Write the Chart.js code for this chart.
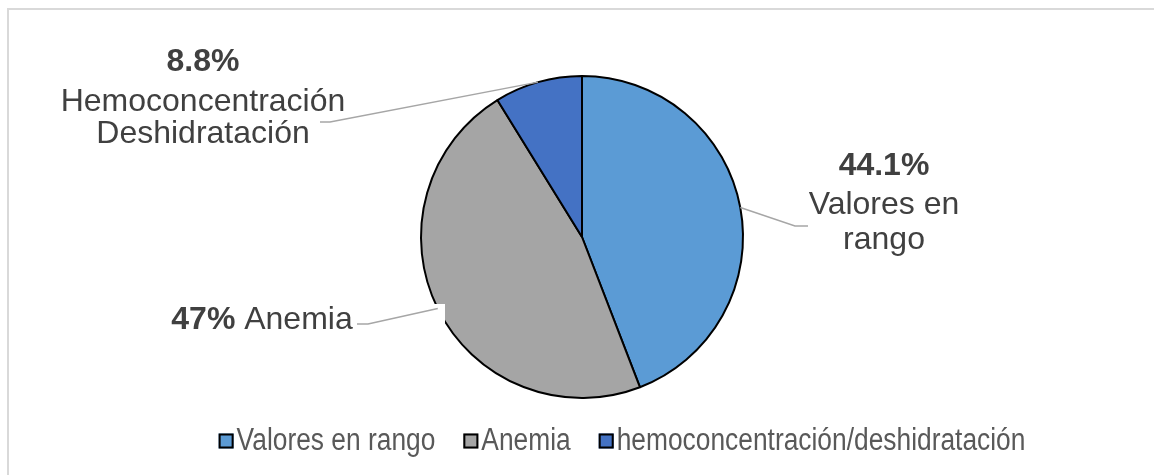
<!DOCTYPE html>
<html>
<head>
<meta charset="utf-8">
<script src="https://cdn.jsdelivr.net/npm/chart.js@4.4.1/dist/chart.umd.min.js"></script>
<style>
  html, body { margin: 0; padding: 0; background: #fff; }
  #wrap { position: relative; width: 1154px; height: 475px; overflow: hidden; }
  #frame { position: absolute; left: 7px; top: 8px; width: 1200px; height: 520px; border-left: 2px solid #d9d9d9; border-top: 2px solid #d9d9d9; }
  canvas { position: absolute; left: 0; top: 0; }
</style>
</head>
<body>
<div id="wrap">
  <div id="frame"></div>
  <canvas id="pieChart" width="1154" height="475"></canvas>
</div>
<script>
// Data
const categories = ['Valores en rango', 'Anemia', 'hemoconcentración/deshidratación'];
const percentValues = [44.1, 47, 8.8];
const percentLabels = ['44.1%', '47%', '8.8%'];
const sliceColors = ['#5B9BD5', '#A5A5A5', '#4472C4'];

const FONT = '"Liberation Sans", Arial, sans-serif';

// labels beside the pie, leader line tail points listed from text end toward pie
const labelLayout = [
    { lines: [[{ t: percentLabels[0], b: true }], [{ t: 'Valores en' }], [{ t: 'rango' }]],
      x: 884, ys: [166, 205, 240], tail: [[808, 226], [795, 226]], box: null },
    { lines: [[{ t: percentLabels[1], b: true }, { t: ' Anemia' }]],
      x: 262, ys: [320], tail: [[357, 324], [368, 324]], box: [160, 304, 285, 34] },
    { lines: [[{ t: percentLabels[2], b: true }], [{ t: 'Hemoconcentración' }], [{ t: 'Deshidratación' }]],
      x: 203, ys: [62, 102, 134], tail: [[320, 122], [330, 122]], box: null }
];

const labelPlugin = {
    id: 'sideLabels',
    afterDatasetsDraw(chart) {
        const ctx = chart.ctx;
        const arcs = chart.getDatasetMeta(0).data;
        ctx.save();
        labelLayout.forEach((lab, i) => {
            const arc = arcs[i];
            const mid = (arc.startAngle + arc.endAngle) / 2;
            const ex = arc.x + Math.cos(mid) * arc.outerRadius;
            const ey = arc.y + Math.sin(mid) * arc.outerRadius;
            if (lab.box) {
                ctx.fillStyle = '#fff';
                ctx.fillRect(lab.box[0], lab.box[1], lab.box[2], lab.box[3]);
            }
            ctx.strokeStyle = '#A6A6A6';
            ctx.lineWidth = 1.5;
            ctx.beginPath();
            ctx.moveTo(lab.tail[0][0], lab.tail[0][1]);
            lab.tail.slice(1).forEach(p => ctx.lineTo(p[0], p[1]));
            ctx.lineTo(ex, ey);
            ctx.stroke();

            ctx.fillStyle = '#404040';
            ctx.textBaseline = 'middle';
            lab.lines.forEach((parts, li) => {
                let w = 0;
                parts.forEach(p => {
                    ctx.font = (p.b ? 'bold ' : '') + '32px ' + FONT;
                    w += ctx.measureText(p.t).width;
                });
                let x = lab.x - w / 2;
                parts.forEach(p => {
                    ctx.font = (p.b ? 'bold ' : '') + '32px ' + FONT;
                    ctx.textAlign = 'left';
                    ctx.fillText(p.t, x, lab.ys[li]);
                    x += ctx.measureText(p.t).width;
                });
            });
        });

        // legend (text squeezed horizontally, like a narrow face)
        ctx.font = '31px ' + FONT;
        const sx = 0.85;
        const box = 15, gapBox = 3, gapItem = 28;
        let total = 0;
        categories.forEach((c, i) => {
            total += box + gapBox + ctx.measureText(c).width * sx + (i < categories.length - 1 ? gapItem : 0);
        });
        let x = 622 - total / 2;
        const ly = 441;
        categories.forEach((c, i) => {
            ctx.fillStyle = sliceColors[i];
            ctx.fillRect(x, ly - box / 2, box, box);
            ctx.strokeStyle = '#000';
            ctx.lineWidth = 2;
            ctx.strokeRect(x + 1, ly - box / 2 + 1, box - 2, box - 2);
            x += box + gapBox;
            ctx.fillStyle = '#595959';
            ctx.textAlign = 'left';
            ctx.textBaseline = 'middle';
            ctx.save();
            ctx.translate(x, ly);
            ctx.scale(sx, 1);
            ctx.fillText(c, 0, 0);
            ctx.restore();
            x += ctx.measureText(c).width * sx + gapItem;
        });
        ctx.restore();
    }
};

const pieCtx = document.getElementById('pieChart').getContext('2d');
new Chart(pieCtx, {
    type: 'pie',
    data: {
        labels: categories,
        datasets: [{
            data: percentValues,
            backgroundColor: sliceColors,
            borderColor: '#000',
            borderWidth: 2,
            hoverOffset: 0
        }]
    },
    options: {
        responsive: false,
        animation: false,
        radius: 161,
        layout: { padding: { left: 421, right: 411, top: 76, bottom: 77 } },
        plugins: {
            legend: { display: false },
            tooltip: { enabled: false }
        }
    },
    plugins: [labelPlugin]
});
</script>
</body>
</html>
